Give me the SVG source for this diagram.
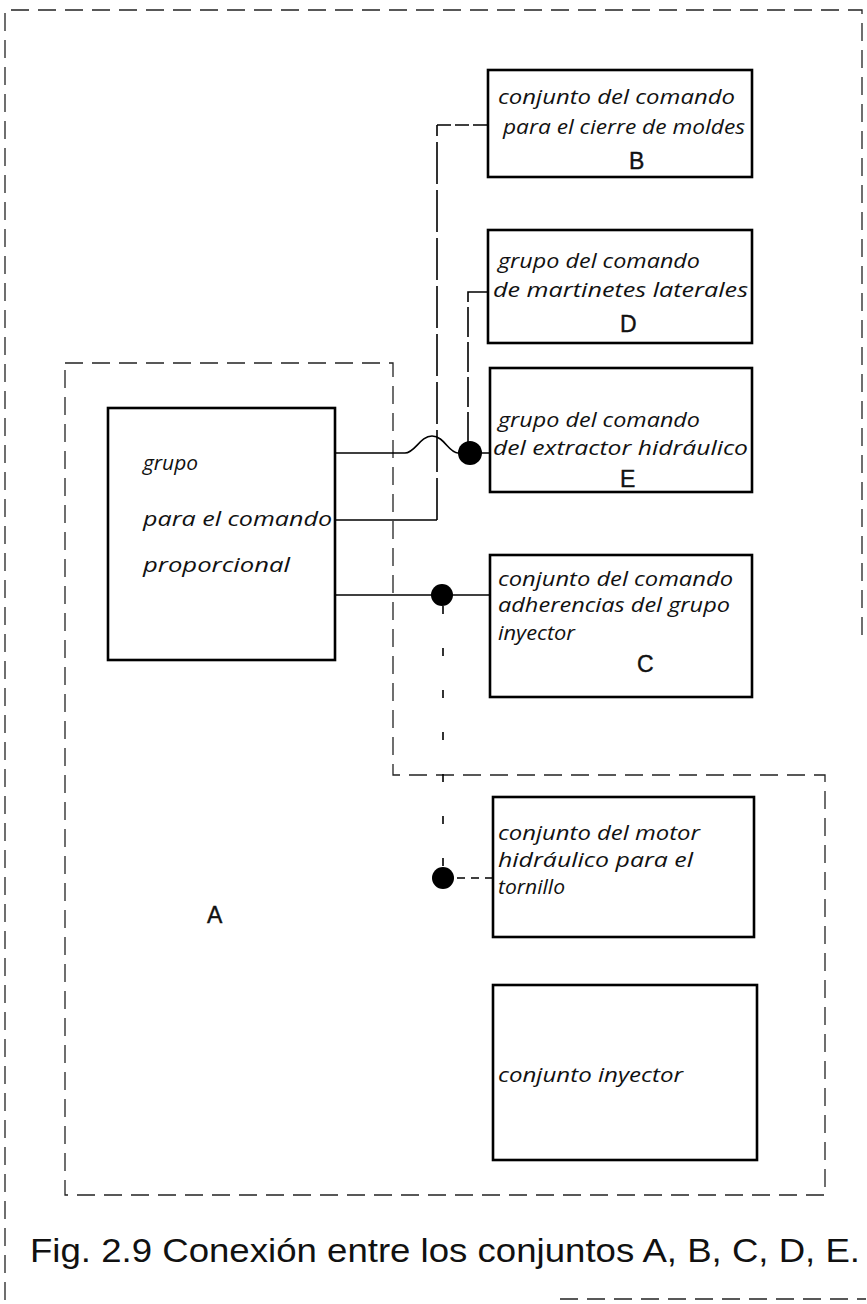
<svg xmlns="http://www.w3.org/2000/svg" width="867" height="1304" viewBox="0 0 867 1304">
<style>
.box{fill:#fff;stroke:#000;stroke-width:2.6}
.t{font-family:"Open Sans","Noto Sans","DejaVu Sans",sans-serif;font-style:italic;font-size:19.5px;fill:#111}
.l{font-family:"Liberation Sans",Arial,sans-serif;font-size:23px;fill:#111;stroke:#111;stroke-width:0.4}
.dash{fill:none;stroke:#222;stroke-width:1.3;stroke-dasharray:18 9}
.ln{fill:none;stroke:#000;stroke-width:1.6}
.dot{fill:#000}
</style>
<rect width="867" height="1304" fill="#fff"/>
<g id="frame">
<path class="dash" d="M5,1300 V10 H862 V640" stroke-dasharray="22 10 4 10"/>
<path class="dash" d="M560,1299 H866"/>
</g>
<g id="A">
<path class="dash" d="M65,363 H393 V775 H825 V1195 H65 Z"/>
<text class="l" x="207" y="923">A</text>
</g>
<g id="connectors">
<path class="ln" d="M335,453 H405 C415,453 420,436 432,436 C444,436 449,453 458,453 H490"/>
<path class="ln" d="M335,520 H437"/>
<path class="ln" d="M437,520 V125" stroke-dasharray="42 6"/>
<path class="ln" d="M437,125 H488" stroke-dasharray="14 4"/>
<path class="ln" d="M488,292 H468 V442" stroke-dasharray="30 5"/>
<path class="ln" d="M335,595 H490"/>
<path class="ln" d="M443,606 V868" stroke-dasharray="8 34"/>
<path class="ln" d="M443,878 H493" stroke-dasharray="8 6"/>
<circle class="dot" cx="470" cy="453" r="12"/>
<circle class="dot" cx="442" cy="595" r="11"/>
<circle class="dot" cx="443" cy="878" r="11"/>
</g>
<g id="group">
<rect class="box" x="108" y="408" width="227" height="252"/>
<text class="t" x="143" y="470" textLength="55" lengthAdjust="spacingAndGlyphs">grupo</text>
<text class="t" x="143" y="526" textLength="189" lengthAdjust="spacingAndGlyphs">para el comando</text>
<text class="t" x="143" y="572" textLength="147" lengthAdjust="spacingAndGlyphs">proporcional</text>
</g>
<g id="B">
<rect class="box" x="488" y="70" width="264" height="107"/>
<text class="t" x="498" y="104" textLength="237" lengthAdjust="spacingAndGlyphs">conjunto del comando</text>
<text class="t" x="503" y="134" textLength="242" lengthAdjust="spacingAndGlyphs">para el cierre de moldes</text>
<text class="l" x="629" y="169">B</text>
</g>
<g id="D">
<rect class="box" x="488" y="230" width="264" height="113"/>
<text class="t" x="498" y="268" textLength="202" lengthAdjust="spacingAndGlyphs">grupo del comando</text>
<text class="t" x="493" y="297" textLength="255" lengthAdjust="spacingAndGlyphs">de martinetes laterales</text>
<text class="l" x="620" y="332">D</text>
</g>
<g id="E">
<rect class="box" x="490" y="368" width="262" height="124"/>
<text class="t" x="498" y="427" textLength="202" lengthAdjust="spacingAndGlyphs">grupo del comando</text>
<text class="t" x="493" y="455" textLength="255" lengthAdjust="spacingAndGlyphs">del extractor hidráulico</text>
<text class="l" x="620" y="487">E</text>
</g>
<g id="C">
<rect class="box" x="490" y="555" width="262" height="142"/>
<text class="t" x="498" y="586" textLength="235" lengthAdjust="spacingAndGlyphs">conjunto del comando</text>
<text class="t" x="498" y="612" textLength="232" lengthAdjust="spacingAndGlyphs">adherencias del grupo</text>
<text class="t" x="498" y="640" textLength="77" lengthAdjust="spacingAndGlyphs">inyector</text>
<text class="l" x="637" y="672">C</text>
</g>
<g id="motor">
<rect class="box" x="493" y="797" width="261" height="140"/>
<text class="t" x="498" y="840" textLength="202" lengthAdjust="spacingAndGlyphs">conjunto del motor</text>
<text class="t" x="498" y="867" textLength="195" lengthAdjust="spacingAndGlyphs">hidráulico para el</text>
<text class="t" x="498" y="894" textLength="67" lengthAdjust="spacingAndGlyphs">tornillo</text>
</g>
<g id="injector">
<rect class="box" x="493" y="985" width="264" height="175"/>
<text class="t" x="498" y="1082" textLength="185" lengthAdjust="spacingAndGlyphs">conjunto inyector</text>
</g>
<g id="caption">
<text x="30" y="1262" font-family="'Liberation Sans',Arial,sans-serif" font-size="34" fill="#111" textLength="830" lengthAdjust="spacingAndGlyphs">Fig. 2.9  Conexión entre los conjuntos A, B, C, D, E.</text>
</g>
</svg>
